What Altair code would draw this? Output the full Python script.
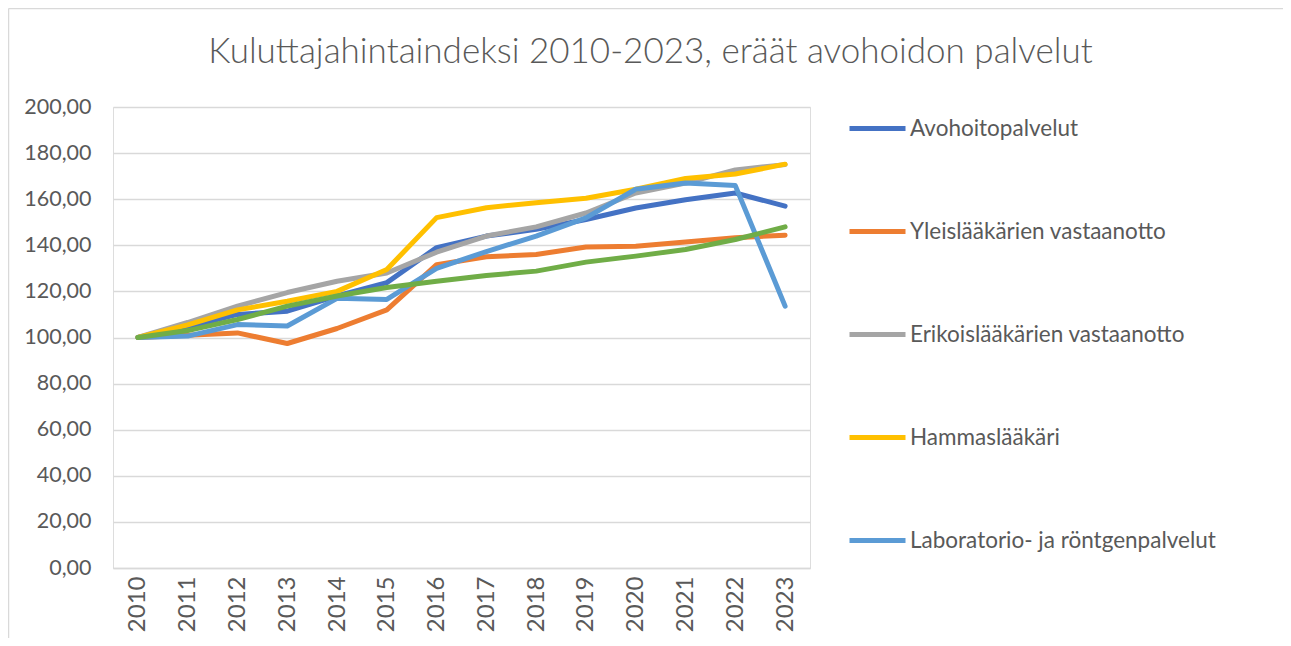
import altair as alt
import pandas as pd

years = [str(y) for y in range(2010, 2024)]
series = [
    "Avohoitopalvelut",
    "Yleislääkärien vastaanotto",
    "Erikoislääkärien vastaanotto",
    "Hammaslääkäri",
    "Laboratorio- ja röntgenpalvelut",
    "Fysioterapia",
]
colors = ["#4472C4", "#ED7D31", "#A5A5A5", "#FFC000", "#5B9BD5", "#70AD47"]

avohoito = [100, 104.5, 110.0, 111.4, 118.0, 123.8, 139.0, 144.0, 146.9, 151.2, 156.2, 159.8, 162.7, 157.0]
yleis = [100, 101.0, 102.0, 97.4, 103.9, 112.0, 131.6, 135.0, 136.0, 139.3, 139.6, 141.4, 143.3, 144.4]
erikois = [100, 106.5, 113.6, 119.5, 124.4, 128.0, 137.0, 144.0, 148.0, 154.0, 162.7, 167.0, 172.7, 175.0]
hammas = [100, 105.5, 112.0, 115.7, 120.0, 129.5, 152.0, 156.3, 158.5, 160.4, 164.3, 169.0, 170.9, 175.2]
labra = [100, 100.6, 105.6, 105.0, 117.0, 116.5, 130.0, 137.3, 144.0, 151.9, 164.3, 167.0, 165.9, 113.6]
fysio = [100, 103.0, 107.8, 113.6, 118.0, 121.7, 124.4, 126.9, 128.8, 132.7, 135.3, 138.2, 142.5, 148.0]

all_values = [avohoito, yleis, erikois, hammas, labra, fysio]
rows = []
for name, vals in zip(series, all_values):
    for yr, v in zip(years, vals):
        rows.append({"Vuosi": yr, "Arvo": v, "Sarja": name})
df = pd.DataFrame(rows)

FONT = "Lato"
TXT = "#595959"
GRID = "#D9D9D9"

lines = alt.Chart(df).mark_line(strokeWidth=5, strokeCap="round", strokeJoin="round").encode(
    x=alt.X(
        "Vuosi:O",
        sort=years,
        scale=alt.Scale(type="point", padding=0.5),
        axis=alt.Axis(
            title=None, labelAngle=-90, labelFontSize=24, labelFont=FONT, labelColor=TXT,
            ticks=False, domain=True, domainColor=GRID, domainWidth=1.5, labelPadding=8, grid=False,
        ),
    ),
    y=alt.Y(
        "Arvo:Q",
        scale=alt.Scale(domain=[0, 200], nice=False),
        axis=alt.Axis(
            title=None, values=list(range(0, 201, 20)),
            labelExpr="replace(format(datum.value, '.2f'), '.', ',')",
            labelFontSize=21.5, labelFont=FONT, labelColor=TXT, ticks=False, domain=False,
            grid=True, gridColor=GRID, gridWidth=1.5, labelPadding=22,
        ),
    ),
    color=alt.Color(
        "Sarja:N",
        sort=series,
        scale=alt.Scale(domain=series, range=colors),
        legend=alt.Legend(
            values=series[:5], title=None, orient="none", legendX=734, legendY=-9,
            symbolType="stroke", symbolSize=3136, symbolStrokeWidth=5,
            labelFontSize=22.5, labelFont=FONT, labelColor=TXT, labelLimit=0,
            labelOffset=2, rowPadding=61, padding=0,
        ),
    ),
)

one = pd.DataFrame({"a": [0]})
border_left = alt.Chart(one).mark_rule(color=GRID, strokeWidth=1.5).encode(
    x=alt.value(-104.5), y=alt.value(-98.5), y2=alt.value(560)
)
border_top = alt.Chart(one).mark_rule(color=GRID, strokeWidth=1.5).encode(
    x=alt.value(-104.5), x2=alt.value(1200), y=alt.value(-98.5)
)

chart = alt.layer(border_left, border_top, lines).properties(
    width=697,
    height=461,
    title=alt.TitleParams(
        "Kuluttajahintaindeksi 2010-2023, eräät avohoidon palvelut",
        font=FONT, fontSize=35, fontWeight=300, color=TXT, anchor="middle", dx=189, offset=-62,
    ),
    autosize=alt.AutoSizeParams(type="none"),
    padding={"left": 105, "top": 99, "right": 473, "bottom": 70},
).configure_view(stroke=None).configure(background="white")

chart.save("out.html", embed_options={"renderer": "svg", "actions": False})
